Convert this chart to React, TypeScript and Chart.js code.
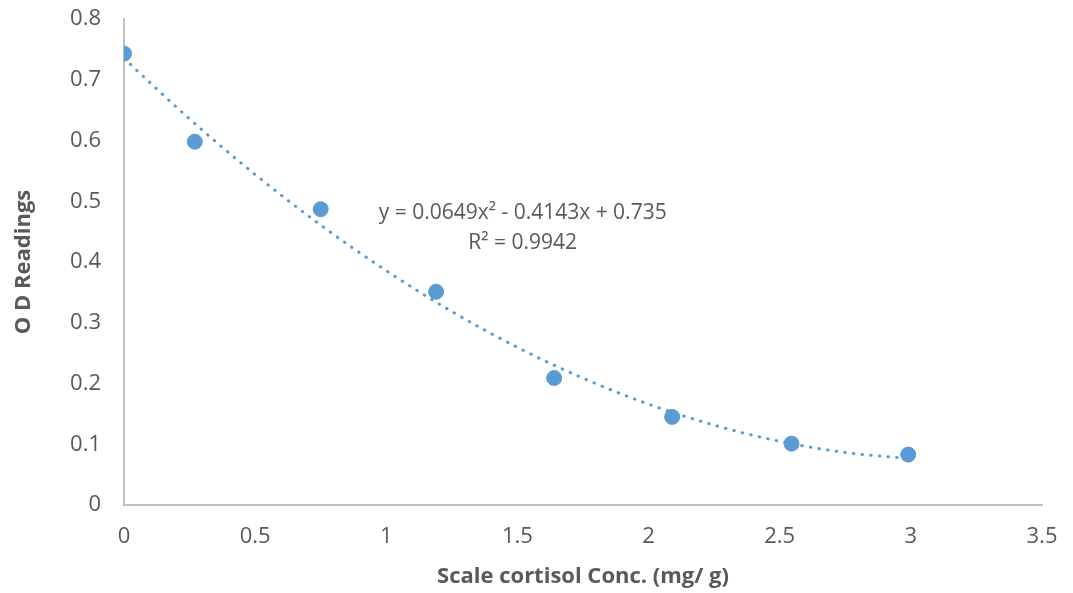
import React, { useEffect, useRef } from "react";
import { Chart, registerables } from "chart.js";

Chart.register(...registerables);

// Measured calibration points
const concX: number[] = [0, 0.27, 0.75, 1.19, 1.64, 2.09, 2.545, 2.99];
const odY: number[] = [0.743, 0.598, 0.487, 0.351, 0.209, 0.145, 0.101, 0.083];

// Polynomial trendline
const trendX: number[] = [0, 0.25, 0.5, 0.75, 1, 1.25, 1.5, 1.75, 2, 2.25, 2.5, 2.75, 3];
const trendY: number[] = [0.735, 0.6355, 0.544, 0.4608, 0.3856, 0.3185, 0.2595, 0.2088, 0.166, 0.1314, 0.1048, 0.0865, 0.0762];

const xTicks: number[] = [0, 0.5, 1, 1.5, 2, 2.5, 3, 3.5];
const yTicks: number[] = [0, 0.1, 0.2, 0.3, 0.4, 0.5, 0.6, 0.7, 0.8];

const equationLines: string[] = ["y = 0.0649x\u00B2 - 0.4143x + 0.735", "R\u00B2 = 0.9942"];
const equationAnchor = { x: 1.52, y: 0.481 };

const xTitle = "Scale cortisol Conc. (mg/ g)";
const yTitle = "O D Readings";

const FONT = "'Open Sans', sans-serif";
const GREY = "#595959";
const BLUE = "#5B9BD5";

const equationPlugin = {
  id: "equationLabel",
  afterDatasetsDraw(chart: any) {
    const { ctx, scales } = chart;
    const px = scales.x.getPixelForValue(equationAnchor.x);
    const py = scales.y.getPixelForValue(equationAnchor.y);
    ctx.save();
    ctx.font = `21px ${FONT}`;
    ctx.fillStyle = GREY;
    ctx.textAlign = "center";
    ctx.textBaseline = "middle";
    equationLines.forEach((t, i) => ctx.fillText(t, px, py + i * 30));
    ctx.restore();
  },
};

export default function App() {
  const ref = useRef<HTMLCanvasElement | null>(null);
  useEffect(() => {
    document.body.style.margin = "0";
    const chart = new Chart(ref.current as HTMLCanvasElement, {
      type: "scatter",
      data: {
        datasets: [
          {
            label: "OD",
            data: concX.map((x, i) => ({ x, y: odY[i] })),
            backgroundColor: BLUE,
            borderColor: BLUE,
            pointRadius: 7.5,
            pointHoverRadius: 7.5,
            order: 1,
          },
          {
            label: "Trend",
            type: "line",
            data: trendX.map((x, i) => ({ x, y: trendY[i] })),
            borderColor: BLUE,
            borderWidth: 3,
            borderDash: [0.5, 8.2],
            borderCapStyle: "round",
            pointRadius: 0,
            tension: 0.4,
            cubicInterpolationMode: "monotone",
            fill: false,
            order: 2,
          } as any,
        ],
      },
      options: {
        animation: false,
        responsive: false,
        maintainAspectRatio: false,
        layout: { padding: { left: 0, right: 31, top: 19, bottom: 0 } },
        plugins: { legend: { display: false }, tooltip: { enabled: false } },
        scales: {
          x: {
            type: "linear",
            min: 0,
            max: 3.5,
            afterBuildTicks: (s: any) => {
              s.ticks = xTicks.map((v) => ({ value: v }));
            },
            afterFit: (s: any) => {
              s.height = 88;
            },
            grid: {
              display: true,
              drawOnChartArea: false,
              drawTicks: true,
              tickLength: 17,
              color: "rgba(0,0,0,0)",
            },
            border: { display: true, color: "#BFBFBF", width: 2 },
            ticks: {
              color: GREY,
              font: { family: FONT, size: 22 },
              padding: 2,
              maxRotation: 0,
              callback: (v: any) => String(Number(v)),
            },
            title: {
              display: true,
              text: xTitle,
              color: GREY,
              font: { family: FONT, size: 22, weight: "bold" },
              padding: { top: 0, bottom: 3 },
            },
          },
          y: {
            type: "linear",
            min: 0,
            max: 0.8,
            afterBuildTicks: (s: any) => {
              s.ticks = yTicks.map((v) => ({ value: v }));
            },
            afterFit: (s: any) => {
              s.width = 124;
            },
            grid: {
              display: true,
              drawOnChartArea: false,
              drawTicks: true,
              tickLength: 20,
              color: "rgba(0,0,0,0)",
            },
            border: { display: true, color: "#BFBFBF", width: 2 },
            ticks: {
              color: GREY,
              font: { family: FONT, size: 22 },
              padding: 3,
              callback: (v: any) => String(Number(v)),
            },
            title: {
              display: true,
              text: yTitle,
              color: GREY,
              font: { family: FONT, size: 22, weight: "bold" },
              padding: { top: 11, bottom: 0 },
            },
          },
        },
      },
      plugins: [equationPlugin],
    });
    return () => chart.destroy();
  }, []);
  return (
    <div style={{ position: "absolute", left: 0, top: 0, width: 1073, height: 593 }}>
      <canvas ref={ref} width={1073} height={593} style={{ display: "block" }} />
    </div>
  );
}
